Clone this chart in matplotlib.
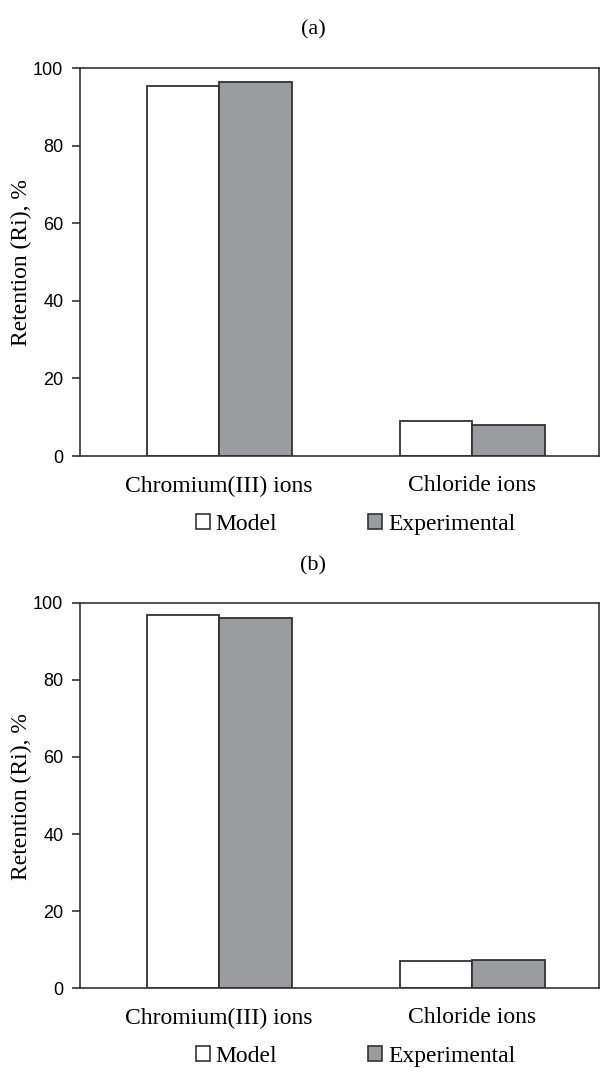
import numpy as np
import matplotlib.pyplot as plt
from matplotlib.patches import Patch

# data
categories = ['Chromium(III) ions', 'Chloride ions']
model_a = [95.4, 9.0]
exper_a = [96.4, 8.0]
model_b = [96.9, 7.0]
exper_b = [96.1, 7.3]
panel_titles = ['(a)', '(b)']
yticks = [0, 20, 40, 60, 80, 100]

serif = 'Liberation Serif'
sans = 'Liberation Sans'

fig = plt.figure(figsize=(6, 10.68), dpi=100)

# [left, bottom, width, height] in figure fractions
boxes = [[0.1333, 0.573, 0.865, 0.3633],
         [0.1333, 0.0749, 0.865, 0.3605]]
title_y = [0.972, 0.470]
legend_y = [0.509, 0.011]
ylabel_y = [0.754, 0.254]

w = 0.287
x = np.arange(len(categories))

for i, (m, e) in enumerate([(model_a, exper_a), (model_b, exper_b)]):
    ax = fig.add_axes(boxes[i])
    ax.bar(x - w / 2, m, w, color='white', edgecolor='#333333', linewidth=1.3)
    ax.bar(x + w / 2, e, w, color='#9a9c9f', edgecolor='#333333', linewidth=1.3)
    ax.set_xlim(-0.55, 1.5)
    ax.set_ylim(0, 100)
    ax.set_yticks(yticks)
    ax.set_yticklabels([str(t) for t in yticks], fontfamily=sans, fontsize=13)
    ax.set_xticks(x)
    ax.set_xticklabels(categories, fontfamily=serif, fontsize=17)
    ax.tick_params(axis='x', length=0, pad=14)
    ax.tick_params(axis='y', length=6, width=1.2, direction='out', pad=6, colors='#333333',
                   labelcolor='black')
    for s in ax.spines.values():
        s.set_linewidth(1.2)
        s.set_color('#333333')
    fig.text(21 / 600, ylabel_y[i], 'Retention (Ri), %', rotation=90, ha='center',
             va='center', fontfamily=serif, fontsize=17)
    fig.text(0.522, title_y[i], panel_titles[i], ha='center', va='center',
             fontfamily=serif, fontsize=16)

    handles = [Patch(facecolor='white', edgecolor='#333333', linewidth=1.2),
               Patch(facecolor='#9a9c9f', edgecolor='#333333', linewidth=1.2)]
    fig.legend(handles, ['Model', 'Experimental'], loc='center', ncol=2,
               bbox_to_anchor=(0.5925, legend_y[i]), frameon=False,
               prop={'family': serif, 'size': 17}, handlelength=0.6,
               handleheight=0.6, handletextpad=0.25, columnspacing=3.85)

fig.savefig('out.png', dpi=100)
